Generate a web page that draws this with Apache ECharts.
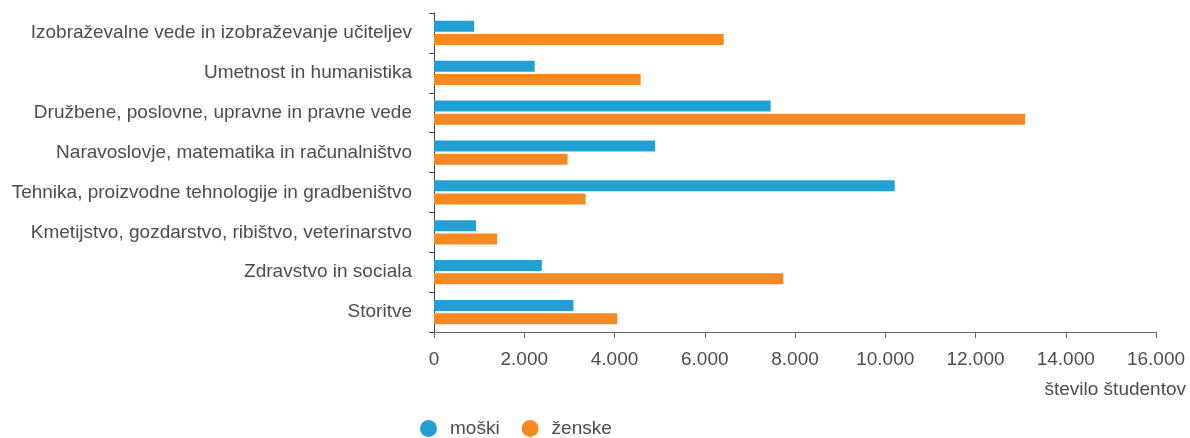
<!DOCTYPE html>
<html>
<head>
<meta charset="utf-8">
<script src="https://cdn.jsdelivr.net/npm/echarts@6/dist/echarts.min.js"></script>
<style>
html,body{margin:0;padding:0;background:#fff;}
#c{width:1190px;height:438px;}
</style>
</head>
<body>
<div id="c"></div>
<script>
const categories = [
  "Izobraževalne vede in izobraževanje učiteljev",
  "Umetnost in humanistika",
  "Družbene, poslovne, upravne in pravne vede",
  "Naravoslovje, matematika in računalništvo",
  "Tehnika, proizvodne tehnologije in gradbeništvo",
  "Kmetijstvo, gozdarstvo, ribištvo, veterinarstvo",
  "Zdravstvo in sociala",
  "Storitve"
];
const moski = [890, 2230, 7460, 4900, 10210, 930, 2390, 3090];
const zenske = [6420, 4580, 13100, 2960, 3360, 1400, 7740, 4060];
const seriesNames = ["moški", "ženske"];
const axisName = "število študentov";

const chart = echarts.init(document.getElementById('c'));
const fmt = v => String(v).replace(/\B(?=(\d{3})+(?!\d))/g, '.');
const txt = '#4d4d4d';
chart.setOption({
  animation: false,
  textStyle: {fontFamily: 'Liberation Sans, Arial, sans-serif'},
  grid: {left: 434, right: 34, top: 13, bottom: 106, containLabel: false},
  legend: {
    data: seriesNames,
    left: 415, top: 414,
    icon: 'circle', itemWidth: 33, itemHeight: 17, itemGap: 22,
    textStyle: {fontSize: 19, color: txt}
  },
  xAxis: {
    type: 'value', min: 0, max: 16000, interval: 2000,
    axisLine: {show: true, lineStyle: {color: '#666', width: 1}},
    axisTick: {show: true, length: 6, lineStyle: {color: '#666'}},
    splitLine: {show: false},
    axisLabel: {formatter: fmt, fontSize: 19, color: txt, margin: 18},
    name: axisName, nameLocation: 'end', nameGap: 30,
    nameTextStyle: {fontSize: 19, color: txt, align: 'right', verticalAlign: 'top', padding: [48, 0, 0, 0]}
  },
  yAxis: {
    type: 'category', data: categories, inverse: true,
    axisLine: {show: true, lineStyle: {color: '#444', width: 1}},
    axisTick: {show: true, length: 5, lineStyle: {color: '#444'}},
    axisLabel: {fontSize: 19, color: txt, margin: 22}
  },
  series: [
    {name: seriesNames[0], type: 'bar', data: moski, barWidth: 11, barGap: '20%', itemStyle: {color: '#23a0d3'}},
    {name: seriesNames[1], type: 'bar', data: zenske, barWidth: 11, barGap: '20%', itemStyle: {color: '#f58a22'}}
  ]
});
</script>
</body>
</html>
